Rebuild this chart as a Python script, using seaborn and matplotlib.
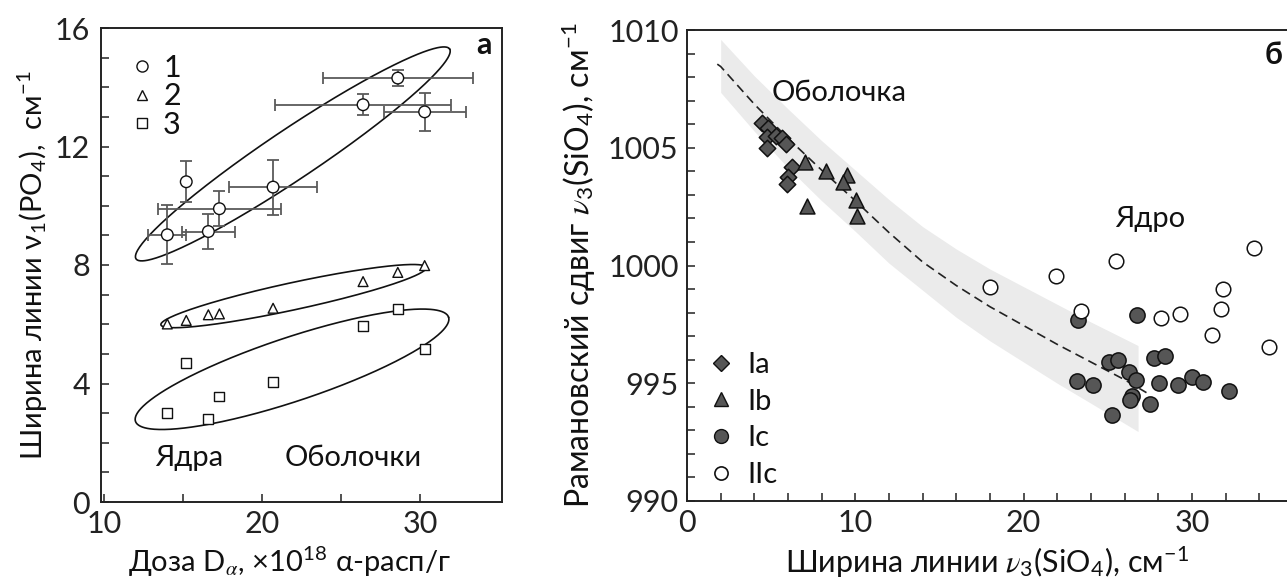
import numpy as np
import pandas as pd
import matplotlib
matplotlib.use("Agg")
import matplotlib.pyplot as plt
import seaborn as sns
from matplotlib.lines import Line2D

# ---------------- panel (а): ν1(PO4) line width vs alpha dose ----------------
dose = [14.0, 15.2, 16.6, 17.3, 20.7, 26.4, 28.6, 30.3]
width_1 = [9.02, 10.81, 9.13, 9.90, 10.63, 13.41, 14.31, 13.17]
width_1_xerr = [1.2, 0.0, 1.7, 3.9, 2.8, 5.6, 4.75, 2.6]
width_1_yerr = [1.0, 0.7, 0.6, 0.6, 0.93, 0.35, 0.28, 0.64]
width_2 = [6.01, 6.13, 6.32, 6.35, 6.54, 7.44, 7.75, 7.98]
width_3 = [3.00, 4.69, 2.79, 3.56, 4.04, 5.95, 6.52, 5.16]
series_labels_a = ["1", "2", "3"]

# group outlines: centre x, centre y, semi-major, semi-minor (x units), tilt (deg)
outline_cx = [21.95, 22.0, 21.9]
outline_cy = [11.75, 6.95, 4.48]
outline_a = [11.95, 8.6, 10.45]
outline_b = [1.58, 0.86, 2.02]
outline_tilt = [33.8, 12.2, 18.4]

# ---------------- panel (б): ν3(SiO4) Raman shift vs line width ----------------
ia_w = [4.44, 4.83, 4.77, 5.29, 5.63, 5.88, 4.77, 6.22, 6.02, 5.96]
ia_s = [1006.07, 1005.83, 1005.44, 1005.51, 1005.41, 1005.18, 1004.99, 1004.17, 1003.74, 1003.46]
ib_w = [7.01, 8.26, 9.49, 9.25, 7.15, 10.04, 10.08]
ib_s = [1004.38, 1004.03, 1003.86, 1003.53, 1002.54, 1002.78, 1002.12]
ic_w = [23.25, 26.76, 25.09, 25.59, 27.75, 28.42, 26.28, 26.68, 23.19, 24.10,
        28.06, 29.19, 29.99, 30.64, 32.19, 26.42, 26.32, 27.51, 25.23]
ic_s = [997.67, 997.88, 995.90, 995.97, 996.07, 996.14, 995.48, 995.13, 995.08, 994.94,
        995.03, 994.92, 995.27, 995.06, 994.66, 994.45, 994.28, 994.14, 993.67]
iic_w = [18.0, 21.9, 25.47, 23.39, 28.15, 29.29, 31.83, 31.73, 31.18, 33.69, 34.6]
iic_s = [999.08, 999.55, 1000.17, 998.05, 997.78, 997.95, 999.01, 998.17, 997.03, 1000.75, 996.54]
series_labels_b = ["Ia", "Ib", "Ic", "IIc"]

trend_w = [1.8, 2, 4, 6, 8, 10, 12, 14, 16, 18, 20, 22, 24, 26, 27.3]
trend_s = [1008.55, 1008.45, 1006.85, 1005.4, 1004.05, 1002.75, 1001.4, 1000.15,
           999.15, 998.25, 997.45, 996.65, 995.9, 995.15, 994.6]
band_w = [2, 4, 6, 8, 10, 12, 14, 16, 18, 20, 22, 24, 26.8]
band_hi = [1009.6, 1008.05, 1006.65, 1005.3, 1004.05, 1002.8, 1001.65, 1000.7,
           999.85, 999.1, 998.35, 997.6, 996.6]
band_lo = [1007.35, 1005.7, 1004.15, 1002.75, 1001.45, 1000.1, 998.95, 997.8,
           996.8, 995.9, 995.0, 994.15, 992.95]

# ---------------- style ----------------
sns.set_theme(style="ticks")
plt.rcParams["font.family"] = ["Lato", "Open Sans", "DejaVu Sans"]
plt.rcParams.update({
    "font.size": 21,
    "mathtext.fontset": "custom",
    "mathtext.rm": "Lato",
    "mathtext.it": "STIXGeneral:italic",
    "mathtext.bf": "Lato:bold",
    "mathtext.fallback": "stix",
    "axes.linewidth": 1.4,
    "axes.edgecolor": "#222222",
    "xtick.direction": "in",
    "ytick.direction": "in",
    "xtick.major.size": 6, "xtick.minor.size": 6,
    "ytick.major.size": 6, "ytick.minor.size": 6,
    "xtick.major.width": 1.1, "xtick.minor.width": 1.1,
    "ytick.major.width": 1.1, "ytick.minor.width": 1.1,
    "xtick.labelsize": 22, "ytick.labelsize": 22,
    "text.color": "#111111",
    "axes.labelcolor": "#111111",
    "xtick.color": "#222222", "ytick.color": "#222222",
})

W, H = 1287, 580
fig = plt.figure(figsize=(W / 100, H / 100), dpi=100)
ax_a = fig.add_axes([101 / W, (H - 502) / H, 401 / W, 474 / H])
ax_b = fig.add_axes([687 / W, (H - 501) / H, 600 / W, 471 / H])

# ---------------- panel (а) ----------------
ax_a.set_xlim(9.8, 35.2)
ax_a.set_ylim(0, 16)
ax_a.set_xticks([10, 20, 30])
ax_a.set_xticks([15, 25], minor=True)
ax_a.set_yticks([0, 4, 8, 12, 16])
ax_a.set_yticks(np.arange(0, 17, 1), minor=True)
ax_a.tick_params(axis="y", pad=8)
ax_a.tick_params(axis="x", pad=6)

df_a = pd.DataFrame({
    "dose": dose * 3,
    "width": width_1 + width_2 + width_3,
    "series": [series_labels_a[0]] * len(dose) + [series_labels_a[1]] * len(dose)
              + [series_labels_a[2]] * len(dose),
})

ax_a.errorbar(dose, width_1, xerr=width_1_xerr, yerr=width_1_yerr, fmt="none",
              ecolor="#5a5a5a", elinewidth=1.3, capsize=4, capthick=1.3, zorder=2)

sns.scatterplot(data=df_a, x="dose", y="width", style="series",
                markers={"1": "o", "2": "^", "3": "s"},
                size="series", sizes={"1": 70, "2": 50, "3": 50},
                color="white", edgecolor="#111111", linewidth=1.0,
                ax=ax_a, zorder=3, legend=False)

# group outlines drawn with the on-screen aspect of the axes
p0 = ax_a.transData.transform((0, 0))
p1 = ax_a.transData.transform((1, 1))
k = (p1[1] - p0[1]) / (p1[0] - p0[0])
t = np.linspace(0, 2 * np.pi, 400)
for cx, cy, a, b, tilt in zip(outline_cx, outline_cy, outline_a, outline_b, outline_tilt):
    th = np.deg2rad(tilt)
    u = a * np.cos(t) * np.cos(th) - b * np.sin(t) * np.sin(th)
    v = a * np.cos(t) * np.sin(th) + b * np.sin(t) * np.cos(th)
    ax_a.plot(cx + u, cy + v / k, color="#111111", lw=1.2, zorder=1)

leg_a_handles = [
    Line2D([], [], ls="none", marker="o", ms=8, mfc="white", mec="#111111", mew=1.0),
    Line2D([], [], ls="none", marker="^", ms=6.5, mfc="white", mec="#111111", mew=1.0),
    Line2D([], [], ls="none", marker="s", ms=7, mfc="white", mec="#111111", mew=1.0),
]
ax_a.legend(leg_a_handles, series_labels_a, loc="upper left", bbox_to_anchor=(0.075, 0.946),
            frameon=False, fontsize=22, handlelength=0.7, handletextpad=0.35,
            labelspacing=0.02, borderpad=0, borderaxespad=0)

ax_a.text(15.4, 1.49, "Ядра", ha="center", va="center", fontsize=21)
ax_a.text(25.8, 1.49, "Оболочки", ha="center", va="center", fontsize=21)
ax_a.text(0.975, 0.965, "а", transform=ax_a.transAxes, ha="right", va="center",
          fontsize=22, fontweight="bold")

ax_a.set_ylabel("Ширина линии ν$_1$(PO$_4$),  см$^{-1}$", fontsize=21)
ax_a.set_xlabel("Доза D$_{α}$, ×10$^{18}$ α-расп/г", fontsize=21)
ax_a.yaxis.set_label_coords(-0.126, 0.5)
ax_a.xaxis.set_label_coords(0.47, -0.09)

# ---------------- panel (б) ----------------
ax_b.set_xlim(0, 35.65)
ax_b.set_ylim(990, 1010)
ax_b.set_xticks([0, 10, 20, 30])
ax_b.set_xticks(np.arange(0, 36, 2), minor=True)
ax_b.set_yticks([990, 995, 1000, 1005, 1010])
ax_b.set_yticks(np.arange(990, 1011, 1), minor=True)
ax_b.spines["right"].set_visible(False)
ax_b.tick_params(axis="y", pad=6)
ax_b.tick_params(axis="x", pad=6)

ax_b.fill_between(band_w, band_lo, band_hi, color="#ebebeb", lw=0, zorder=0)
sns.lineplot(x=trend_w, y=trend_s, ax=ax_b, color="#222222", lw=1.2,
             sort=False, zorder=1)
ax_b.lines[-1].set_dashes((5.5, 3.2))

df_b = pd.DataFrame({
    "w": ia_w + ib_w + ic_w + iic_w,
    "s": ia_s + ib_s + ic_s + iic_s,
    "grp": ["Ia"] * len(ia_w) + ["Ib"] * len(ib_w) + ["Ic"] * len(ic_w) + ["IIc"] * len(iic_w),
})
fill_b = {"Ia": "#565656", "Ib": "#565656", "Ic": "#565656", "IIc": "white"}
mark_b = {"Ia": "D", "Ib": "^", "Ic": "o", "IIc": "o"}
size_b = {"Ia": 70, "Ib": 115, "Ic": 120, "IIc": 110}
for g in series_labels_b:
    sub = df_b[df_b["grp"] == g]
    sns.scatterplot(data=sub, x="w", y="s", marker=mark_b[g], s=size_b[g],
                    color=fill_b[g], edgecolor="#111111", linewidth=1.1,
                    ax=ax_b, zorder=3, legend=False)

leg_b_handles = [
    Line2D([], [], ls="none", marker="D", ms=8, mfc="#565656", mec="#111111", mew=1.0),
    Line2D([], [], ls="none", marker="^", ms=9.5, mfc="#565656", mec="#111111", mew=1.0),
    Line2D([], [], ls="none", marker="o", ms=10, mfc="#565656", mec="#111111", mew=1.0),
    Line2D([], [], ls="none", marker="o", ms=9.5, mfc="white", mec="#111111", mew=1.2),
]
ax_b.legend(leg_b_handles, series_labels_b, loc="lower left", bbox_to_anchor=(0.035, 0.027),
            frameon=False, fontsize=21, handlelength=0.9, handletextpad=0.45,
            labelspacing=0.37, borderpad=0, borderaxespad=0)

ax_b.text(5.03, 1007.34, "Оболочка", ha="left", va="center", fontsize=21)
ax_b.text(25.43, 1001.98, "Ядро", ha="left", va="center", fontsize=21)
ax_b.text(0.977, 0.947, "б", transform=ax_b.transAxes, ha="center", va="center",
          fontsize=22, fontweight="bold")

ax_b.set_ylabel("Рамановский сдвиг $\\nu_3$(SiO$_4$), см$^{-1}$", fontsize=23)
ax_b.set_xlabel("Ширина линии $\\nu_3$(SiO$_4$), см$^{-1}$", fontsize=22)
ax_b.yaxis.set_label_coords(-0.15, 0.5)
ax_b.xaxis.set_label_coords(0.5, -0.092)

fig.savefig("out.png", dpi=100)
